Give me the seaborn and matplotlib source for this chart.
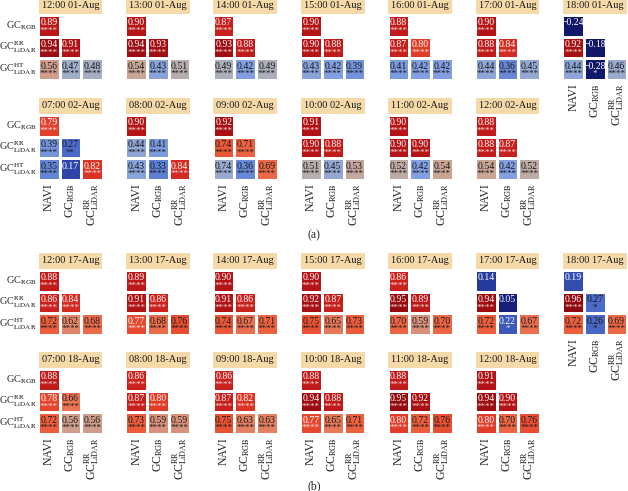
import numpy as np
import pandas as pd
import matplotlib
matplotlib.use("Agg")
import matplotlib.pyplot as plt
import seaborn as sns
from matplotlib.colors import LinearSegmentedColormap

# ---------------- data ----------------
row_labels = [r"GC$_{\mathrm{RGB}}$", r"GC$^{\mathrm{RR}}_{\mathrm{LiDAR}}$", r"GC$^{\mathrm{HT}}_{\mathrm{LiDAR}}$"]
col_labels = ["NAVI", r"GC$_{\mathrm{RGB}}$", r"GC$^{\mathrm{RR}}_{\mathrm{LiDAR}}$"]

# lower-triangle order: (RGB,NAVI), (RR,NAVI), (RR,RGB), (HT,NAVI), (HT,RGB), (HT,RR)
titles_a = ["12:00 01-Aug", "13:00 01-Aug", "14:00 01-Aug", "15:00 01-Aug", "16:00 01-Aug",
            "17:00 01-Aug", "18:00 01-Aug",
            "07:00 02-Aug", "08:00 02-Aug", "09:00 02-Aug", "10:00 02-Aug", "11:00 02-Aug",
            "12:00 02-Aug"]
values_a = [
    [0.89, 0.94, 0.91, 0.56, 0.47, 0.48],
    [0.90, 0.94, 0.93, 0.54, 0.43, 0.51],
    [0.87, 0.93, 0.88, 0.49, 0.42, 0.49],
    [0.90, 0.90, 0.88, 0.43, 0.42, 0.39],
    [0.88, 0.87, 0.80, 0.41, 0.42, 0.42],
    [0.90, 0.88, 0.84, 0.44, 0.36, 0.45],
    [-0.24, 0.92, -0.18, 0.44, -0.28, 0.46],
    [0.79, 0.39, 0.27, 0.35, 0.17, 0.82],
    [0.90, 0.44, 0.41, 0.43, 0.33, 0.84],
    [0.92, 0.74, 0.71, 0.74, 0.36, 0.69],
    [0.91, 0.90, 0.88, 0.51, 0.45, 0.53],
    [0.90, 0.90, 0.90, 0.52, 0.42, 0.54],
    [0.88, 0.88, 0.87, 0.54, 0.42, 0.52],
]
stars_a = [
    [4, 4, 4, 4, 4, 4], [4, 4, 4, 4, 4, 4], [4, 4, 4, 4, 4, 4], [4, 4, 4, 4, 4, 4],
    [4, 4, 4, 4, 4, 4], [4, 4, 4, 4, 4, 4], [0, 4, 0, 4, 1, 4],
    [4, 4, 2, 4, 0, 4], [4, 4, 4, 4, 4, 4], [4, 4, 4, 4, 4, 4], [4, 4, 4, 4, 4, 4],
    [4, 4, 4, 4, 4, 4], [4, 4, 4, 4, 4, 4],
]
# shading in the source differs from the printed value for this one cell
shade_override_a = {(9, 3): 0.46}

titles_b = ["12:00 17-Aug", "13:00 17-Aug", "14:00 17-Aug", "15:00 17-Aug", "16:00 17-Aug",
            "17:00 17-Aug", "18:00 17-Aug",
            "07:00 18-Aug", "08:00 18-Aug", "09:00 18-Aug", "10:00 18-Aug", "11:00 18-Aug",
            "12:00 18-Aug"]
values_b = [
    [0.88, 0.86, 0.84, 0.72, 0.62, 0.68],
    [0.89, 0.91, 0.86, 0.77, 0.68, 0.76],
    [0.90, 0.91, 0.86, 0.74, 0.67, 0.71],
    [0.90, 0.92, 0.87, 0.75, 0.65, 0.73],
    [0.86, 0.95, 0.89, 0.70, 0.59, 0.70],
    [0.14, 0.94, 0.05, 0.72, 0.22, 0.67],
    [0.19, 0.96, 0.27, 0.72, 0.26, 0.69],
    [0.88, 0.78, 0.66, 0.72, 0.56, 0.56],
    [0.86, 0.87, 0.80, 0.73, 0.59, 0.59],
    [0.86, 0.87, 0.82, 0.75, 0.63, 0.63],
    [0.88, 0.94, 0.88, 0.77, 0.65, 0.71],
    [0.88, 0.95, 0.92, 0.80, 0.72, 0.76],
    [0.91, 0.94, 0.90, 0.80, 0.70, 0.76],
]
stars_b = [
    [4, 4, 4, 4, 4, 4], [4, 4, 4, 4, 4, 4], [4, 4, 4, 4, 4, 4], [4, 4, 4, 4, 4, 4],
    [4, 4, 4, 4, 4, 4], [0, 4, 0, 4, 1, 4], [0, 4, 1, 4, 1, 4],
    [4, 4, 4, 4, 4, 4], [4, 4, 4, 4, 4, 4], [4, 4, 4, 4, 4, 4], [4, 4, 4, 4, 4, 4],
    [4, 4, 4, 4, 4, 4], [4, 4, 4, 4, 4, 4],
]
shade_override_b = {}

# ---------------- style ----------------
sns.set_style("white")
plt.rcParams["font.family"] = ["Liberation Serif", "DejaVu Serif"]
plt.rcParams["mathtext.fontset"] = "stix"

nodes = [
    (0.00, (18, 24, 105)), (0.05, (22, 32, 122)), (0.15, (40, 62, 160)),
    (0.25, (70, 100, 198)), (0.35, (98, 133, 214)), (0.42, (130, 160, 225)),
    (0.47, (160, 173, 200)), (0.50, (178, 176, 180)), (0.54, (200, 165, 150)),
    (0.58, (212, 150, 130)), (0.63, (228, 130, 100)), (0.68, (236, 108, 75)),
    (0.74, (236, 88, 55)), (0.80, (225, 60, 40)), (0.86, (205, 35, 30)),
    (0.90, (182, 20, 22)), (0.95, (150, 10, 15)), (1.00, (125, 5, 10)),
]
cmap = LinearSegmentedColormap.from_list(
    "corr", [(p, tuple(c / 255 for c in rgb)) for p, rgb in nodes])

W, H = 628, 491
fig = plt.figure(figsize=(W / 100, H / 100), dpi=100)
fig.patch.set_facecolor("white")

CELL = 65
lefts = [38 + 87.4 * i for i in range(7)]
cells = [(0, 0), (1, 0), (1, 1), (2, 0), (2, 1), (2, 2)]


def add_ax(left, top):
    return fig.add_axes([left / W, 1 - (top + CELL) / H, CELL / W, CELL / H])


def draw_panel(titles, values, stars, overrides, top1, top2):
    for k, (title, vals, st) in enumerate(zip(titles, values, stars)):
        if k < 7:
            left, top, col_i, row_i = lefts[k], top1, k, 0
        else:
            left, top, col_i, row_i = lefts[k - 7], top2, k - 7, 1
        ax = add_ax(left, top)
        shade = np.full((3, 3), np.nan)
        for j, (r, c) in enumerate(cells):
            shade[r, c] = overrides.get((k, j), vals[j])
        df = pd.DataFrame(shade, index=row_labels, columns=col_labels)
        sns.heatmap(df, ax=ax, cmap=cmap, vmin=0, vmax=1, cbar=False,
                    linewidths=1, linecolor="white",
                    xticklabels=col_labels, yticklabels=row_labels)
        for j, (r, c) in enumerate(cells):
            v = vals[j]
            tc = "white" if (v < 0.25 or v >= 0.77) else "#1a1a1a"
            txt = f"{v:.2f}".replace("-", "\u2212")
            ax.text(c + 0.5, r + 0.36, txt, ha="center", va="center",
                    fontsize=7, color=tc)
            if st[j]:
                ax.text(c + 0.5, r + 0.74, "*" * st[j], ha="center", va="center",
                        fontsize=6.5, color=tc, alpha=0.85 if tc == "white" else 1)
        ax.tick_params(axis="x", length=0, pad=2)
        ax.tick_params(axis="y", length=0, pad=1)
        if col_i == 0:
            ax.set_yticklabels(row_labels, rotation=0, fontsize=7.4)
        else:
            ax.set_yticklabels([])
        if row_i == 1 or k == 6:
            ax.set_xticklabels(col_labels, rotation=90, fontsize=8.5)
        else:
            ax.set_xticklabels([])
        ax.set_xlabel("")
        ax.set_ylabel("")
        ax.text(1.5, -0.42, title, ha="center", va="center", fontsize=7.5,
                color="#1a1a1a",
                bbox=dict(boxstyle="square,pad=0.3", fc="#f5d9a8", ec="none"))


draw_panel(titles_a, values_a, stars_a, shade_override_a, 15, 115)
draw_panel(titles_b, values_b, stars_b, shade_override_b, 270, 369)

fig.text(314 / W, 1 - 235 / H, "(a)", ha="center", va="center", fontsize=8.5)
fig.text(314 / W, 1 - 486 / H, "(b)", ha="center", va="center", fontsize=8.5)

fig.savefig("out.png", dpi=100, facecolor="white")
